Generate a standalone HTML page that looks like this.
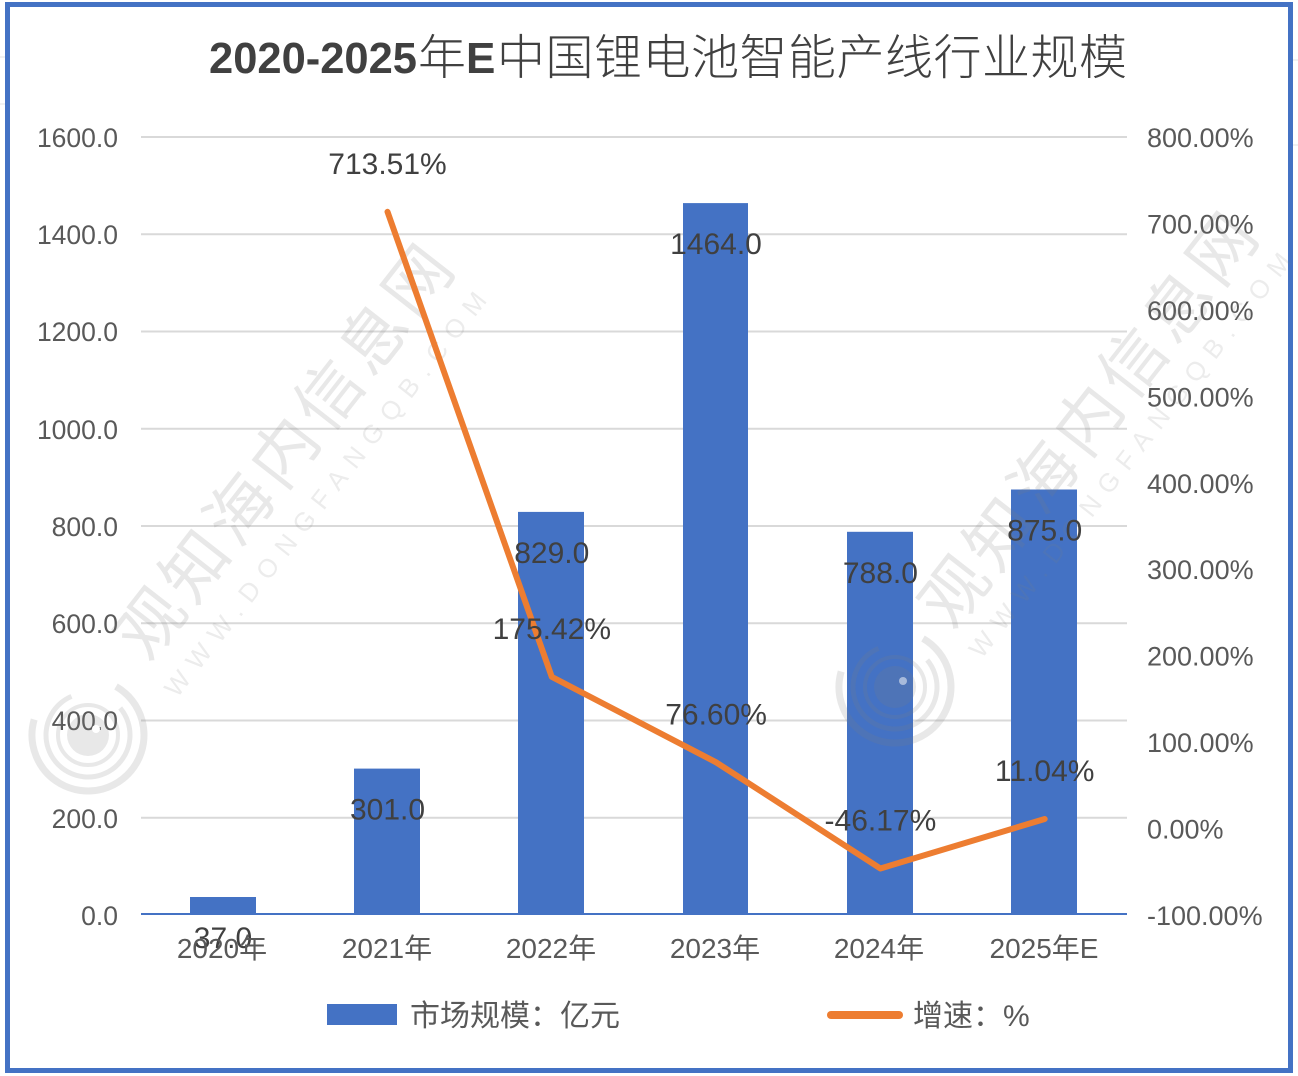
<!DOCTYPE html>
<html>
<head>
<meta charset="utf-8">
<style>
  html,body{margin:0;padding:0;background:#fff;}
  body{width:1298px;height:1076px;overflow:hidden;position:relative;}
  svg{position:absolute;left:0;top:0;}
</style>
</head>
<body>
<svg width="1298" height="1076" viewBox="0 0 1298 1076" xmlns="http://www.w3.org/2000/svg">
  <rect x="0" y="0" width="1298" height="1076" fill="#ffffff"/>
  <g stroke="#e3e3e3" stroke-width="1">
    <line x1="0" y1="57" x2="5" y2="57"/>
    <line x1="0" y1="104" x2="5" y2="104"/>
    <line x1="1293" y1="60" x2="1298" y2="60"/>
    <line x1="1293" y1="145" x2="1298" y2="145"/>
  </g>
  <rect x="7.5" y="4.5" width="1283" height="1066" fill="#ffffff" stroke="#4472C4" stroke-width="5"/>

  <!-- title -->
  <text x="209" y="73" font-family="Liberation Sans, sans-serif" font-weight="bold" font-size="44" fill="#404040" textLength="208" lengthAdjust="spacingAndGlyphs">2020-2025</text>
  <text x="418" y="74" font-family="'Noto Sans CJK SC', sans-serif" font-weight="300" font-size="48" fill="#404040">年</text>
  <text x="466" y="73" font-family="Liberation Sans, sans-serif" font-weight="bold" font-size="44" fill="#404040">E</text>
  <text x="497" y="74" font-family="'Noto Sans CJK SC', sans-serif" font-weight="300" font-size="48" fill="#404040" textLength="630" lengthAdjust="spacing">中国锂电池智能产线行业规模</text>

  <!-- gridlines -->
  <g stroke="#d9d9d9" stroke-width="2">
    <line x1="141" y1="137" x2="1127" y2="137"/>
    <line x1="141" y1="234.25" x2="1127" y2="234.25"/>
    <line x1="141" y1="331.5" x2="1127" y2="331.5"/>
    <line x1="141" y1="428.75" x2="1127" y2="428.75"/>
    <line x1="141" y1="526" x2="1127" y2="526"/>
    <line x1="141" y1="623.25" x2="1127" y2="623.25"/>
    <line x1="141" y1="720.5" x2="1127" y2="720.5"/>
    <line x1="141" y1="817.75" x2="1127" y2="817.75"/>
  </g>

  <g font-family="Liberation Sans, sans-serif" font-size="26.5" fill="#595959" text-anchor="end">
    <text x="118" y="147">1600.0</text>
    <text x="118" y="244">1400.0</text>
    <text x="118" y="341">1200.0</text>
    <text x="118" y="439">1000.0</text>
    <text x="118" y="536">800.0</text>
    <text x="118" y="633">600.0</text>
    <text x="118" y="730">400.0</text>
    <text x="118" y="828">200.0</text>
    <text x="118" y="925">0.0</text>
  </g>

  <g font-family="Liberation Sans, sans-serif" font-size="27" fill="#595959">
    <text x="1147" y="147">800.00%</text>
    <text x="1147" y="233.4">700.00%</text>
    <text x="1147" y="319.9">600.00%</text>
    <text x="1147" y="406.3">500.00%</text>
    <text x="1147" y="492.8">400.00%</text>
    <text x="1147" y="579.2">300.00%</text>
    <text x="1147" y="665.6">200.00%</text>
    <text x="1147" y="752.1">100.00%</text>
    <text x="1147" y="838.5">0.00%</text>
    <text x="1147" y="925">-100.00%</text>
  </g>

  <g fill="#4472C4">
    <rect x="190" y="897" width="66" height="18"/>
    <rect x="354" y="768.6" width="66" height="146.4"/>
    <rect x="518" y="511.9" width="66" height="403.1"/>
    <rect x="683" y="203.1" width="65" height="711.9"/>
    <rect x="847" y="531.8" width="66" height="383.2"/>
    <rect x="1011" y="489.5" width="66" height="425.5"/>
  </g>
  <line x1="141" y1="914" x2="1127" y2="914" stroke="#4472C4" stroke-width="2"/>

  <!-- watermark 1 -->
  <g>
    <g transform="translate(283,451) rotate(-52)">
      <text x="0" y="25" text-anchor="middle" font-family="'Noto Sans CJK SC', sans-serif" font-size="66" fill="#808080" fill-opacity="0.18" textLength="500" lengthAdjust="spacing">观知海内信息网</text>
      <text x="-8" y="69" text-anchor="middle" font-family="Liberation Sans, sans-serif" font-size="26" fill="#808080" fill-opacity="0.15" textLength="505" lengthAdjust="spacing">WWW.DONGFANGQB.COM</text>
    </g>
    <g transform="translate(88,735)" fill="none" stroke="#808080" stroke-opacity="0.18">
      <circle r="56" stroke-width="7" stroke-dasharray="250 102" transform="rotate(-60)"/>
      <circle r="42" stroke-width="5" stroke-dasharray="210 54" transform="rotate(-40)"/>
      <circle r="30" stroke-width="4"/>
      <circle r="21" fill="#808080" fill-opacity="0.18" stroke="none"/>
      <circle cx="8" cy="-6" r="4" fill="#ffffff" stroke="none"/>
    </g>
  </g>

  <!-- watermark 2 -->
  <g>
    <g transform="translate(1087,419) rotate(-52)">
      <text x="0" y="25" text-anchor="middle" font-family="'Noto Sans CJK SC', sans-serif" font-size="66" fill="#808080" fill-opacity="0.18" textLength="500" lengthAdjust="spacing">观知海内信息网</text>
      <text x="-2" y="65" text-anchor="middle" font-family="Liberation Sans, sans-serif" font-size="26" fill="#808080" fill-opacity="0.15" textLength="505" lengthAdjust="spacing">WWW.DONGFANGQB.COM</text>
    </g>
    <g transform="translate(895,687)" fill="none" stroke="#808080" stroke-opacity="0.18">
      <circle r="56" stroke-width="7" stroke-dasharray="250 102" transform="rotate(-60)"/>
      <circle r="42" stroke-width="5" stroke-dasharray="210 54" transform="rotate(-40)"/>
      <circle r="30" stroke-width="4"/>
      <circle r="21" fill="#808080" fill-opacity="0.18" stroke="none"/>
      <circle cx="8" cy="-6" r="4" fill="#ffffff" fill-opacity="0.5" stroke="none"/>
    </g>
  </g>

  <polyline points="387.5,211.8 551.8,676.9 716.1,762.3 880.4,868.5 1044.7,819" fill="none" stroke="#ED7D31" stroke-width="6" stroke-linecap="round" stroke-linejoin="round"/>

  <g font-family="Liberation Sans, sans-serif" font-size="30" fill="#404040" text-anchor="middle">
    <text x="223" y="948">37.0</text>
    <text x="387.5" y="819.6">301.0</text>
    <text x="551.8" y="563">829.0</text>
    <text x="716" y="254.1">1464.0</text>
    <text x="880.4" y="582.8">788.0</text>
    <text x="1044.7" y="540.5">875.0</text>
  </g>

  <g font-family="Liberation Sans, sans-serif" font-size="30" fill="#404040" text-anchor="middle">
    <text x="387.5" y="174">713.51%</text>
    <text x="551.8" y="639">175.42%</text>
    <text x="716.1" y="724.5">76.60%</text>
    <text x="880.4" y="830.5">-46.17%</text>
    <text x="1044.7" y="781">11.04%</text>
  </g>

  <g font-family="'Liberation Sans', 'Noto Sans CJK SC', sans-serif" font-size="28" fill="#595959" text-anchor="middle">
    <text x="222" y="958">2020年</text>
    <text x="387" y="958">2021年</text>
    <text x="551" y="958">2022年</text>
    <text x="715" y="958">2023年</text>
    <text x="879" y="958">2024年</text>
    <text x="1044" y="958">2025年E</text>
  </g>

  <rect x="327" y="1004" width="70" height="21" fill="#4472C4"/>
  <text x="410" y="1026" font-family="'Liberation Sans', 'Noto Sans CJK SC', sans-serif" font-size="30" fill="#595959">市场规模：亿元</text>
  <line x1="831" y1="1015" x2="899" y2="1015" stroke="#ED7D31" stroke-width="8" stroke-linecap="round"/>
  <text x="913" y="1026" font-family="'Liberation Sans', 'Noto Sans CJK SC', sans-serif" font-size="30" fill="#595959">增速：%</text>
</svg>
</body>
</html>
